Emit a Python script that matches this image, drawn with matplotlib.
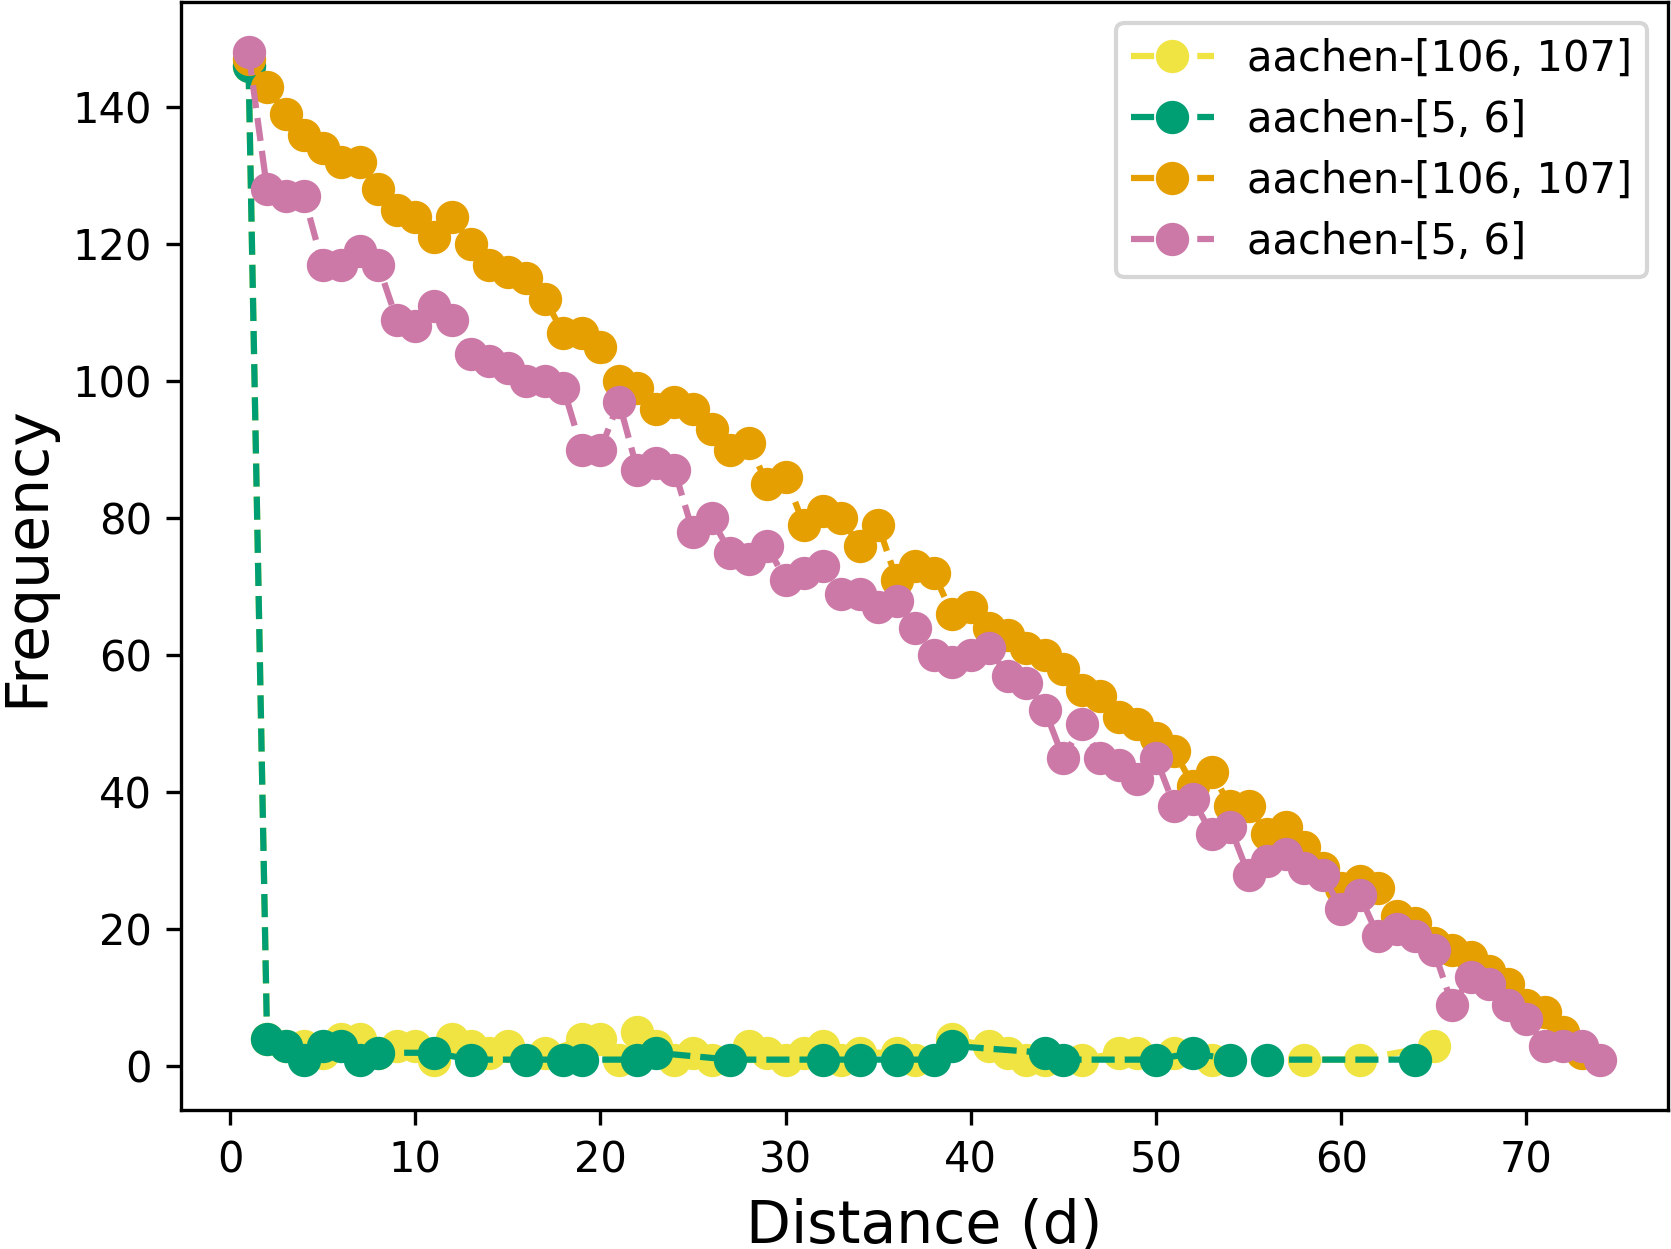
import matplotlib
matplotlib.use("Agg")
import matplotlib.pyplot as plt

# ======= Frequence des distances, quatre series =======

labels = ["aachen-[106, 107]", "aachen-[5, 6]", "aachen-[106, 107]", "aachen-[5, 6]"]
colors = ["#F0E442", "#009E73", "#E69F00", "#CC79A7"]

# serie jaune (peu de valeurs, proche de zero)
yellow_x = [1, 2, 3, 4, 5, 6, 7, 8, 9, 10, 11, 12, 13, 14, 15, 17, 19, 20, 21, 22, 23, 24,
            25, 26, 28, 29, 30, 31, 32, 33, 34, 36, 37, 39, 41, 42, 43, 44, 46, 48, 49, 51,
            53, 58, 61, 65]
yellow_y = [146, 4, 3, 3, 2, 4, 4, 2, 3, 3, 1, 4, 3, 2, 3, 2, 4, 4, 1, 5, 3, 1,
            2, 1, 3, 2, 1, 2, 3, 1, 2, 2, 1, 4, 3, 2, 1, 1, 1, 2, 2, 2,
            1, 1, 1, 3]

# serie verte
green_x = [1, 2, 3, 4, 5, 6, 7, 8, 11, 13, 16, 18, 19, 22, 23, 27, 32, 34, 36, 38, 39,
           44, 45, 50, 52, 54, 56, 64]
green_y = [146, 4, 3, 1, 3, 3, 1, 2, 2, 1, 1, 1, 1, 1, 2, 1, 1, 1, 1, 1, 3,
           2, 1, 1, 2, 1, 1, 1]

# serie orange : distances 1 a 73
orange_x = list(range(1, 74))
orange_y = [147, 143, 139, 136, 134, 132, 132, 128, 125, 124, 121, 124, 120, 117, 116, 115,
            112, 107, 107, 105, 100, 99, 96, 97, 96, 93, 90, 91, 85, 86, 79, 81, 80, 76,
            79, 71, 73, 72, 66, 67, 64, 63, 61, 60, 58, 55, 54, 51, 50, 48, 46, 41, 43,
            38, 38, 34, 35, 32, 29, 26, 27, 26, 22, 21, 18, 17, 16, 14, 12, 9, 8, 5, 2]

# serie rose : distances 1 a 74
pink_x = list(range(1, 75))
pink_y = [148, 128, 127, 127, 117, 117, 119, 117, 109, 108, 111, 109, 104, 103, 102, 100,
          100, 99, 90, 90, 97, 87, 88, 87, 78, 80, 75, 74, 76, 71, 72, 73, 69, 69, 67, 68,
          64, 60, 59, 60, 61, 57, 56, 52, 45, 50, 45, 44, 42, 45, 38, 39, 34, 35, 28, 30,
          31, 29, 28, 23, 25, 19, 20, 19, 17, 9, 13, 12, 9, 7, 3, 3, 3, 1]

series = [(yellow_x, yellow_y), (green_x, green_y), (orange_x, orange_y), (pink_x, pink_y)]

fig = plt.figure(figsize=(1671 / 300, 1249 / 300), dpi=300)
ax = fig.add_axes([0.1083, 0.1113, 0.8899, 0.8871])

for (xs, ys), color, label in zip(series, colors, labels):
    ax.plot(xs, ys, linestyle="--", marker="o", color=color, linewidth=1.5,
            markersize=7, label=label)

ax.set_xlim(-2.65, 77.65)
ax.tick_params(labelsize=10)
ax.set_xlabel("Distance (d)", fontsize=14)
ax.set_ylabel("Frequency", fontsize=14)
ax.legend(loc="upper right", fontsize=10, labelspacing=0.46, borderpad=0.35)

fig.savefig("out.png", dpi=300)
